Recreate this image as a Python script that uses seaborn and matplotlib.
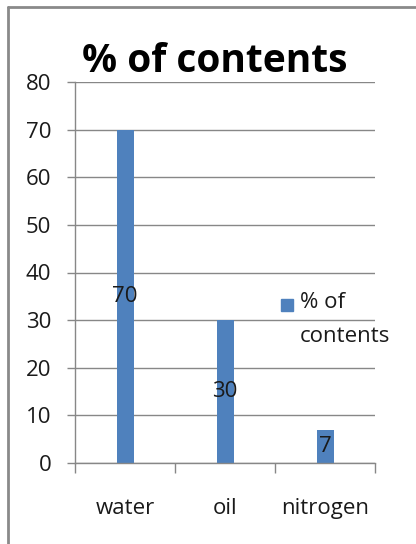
import matplotlib
matplotlib.use("Agg")
import matplotlib.pyplot as plt
import seaborn as sns
import pandas as pd
from matplotlib.lines import Line2D
from matplotlib.patches import Rectangle
from matplotlib.legend_handler import HandlerPatch

categories = ["water", "oil", "nitrogen"]
values = [70, 30, 7]
series_name = "% of contents"
title = "% of contents"
yticks = [0, 10, 20, 30, 40, 50, 60, 70, 80]

sns.set_theme(style="white")
plt.rcParams['font.family'] = ['Open Sans', 'DejaVu Sans']

df = pd.DataFrame({"category": categories, "value": values, "series": series_name})

fig = plt.figure(figsize=(4.16, 5.44), dpi=100)
ax = fig.add_axes([75/416, 1-463/544, 300/416, 381/544])

sns.barplot(data=df, x="category", y="value", hue="series",
            palette=["#4F81BD"], width=0.17, ax=ax, saturation=1, legend=False,
            linewidth=0)

grey = "#878787"
fs = 16
ax.set_ylim(0, 80)
ax.set_xlim(-0.5, 2.5)
ax.set_yticks(yticks)
ax.yaxis.grid(True, color=grey, lw=1)
ax.set_axisbelow(True)
for s in ["top", "right"]:
    ax.spines[s].set_visible(False)
for s in ["left", "bottom"]:
    ax.spines[s].set_color(grey)
    ax.spines[s].set_linewidth(1)
ax.set_xlabel("")
ax.set_ylabel("")

ax.tick_params(axis="y", which="major", length=6, color=grey, width=1, pad=11,
               labelsize=fs, labelcolor="#1a1a1a", left=True)
ax.tick_params(axis="x", which="major", length=0, pad=25, labelsize=fs, labelcolor="#1a1a1a")
ax.set_xticks([-0.5, 0.5, 1.5, 2.5], minor=True)
ax.tick_params(axis="x", which="minor", length=7, color=grey, width=1, bottom=True)

for c in ax.containers:
    ax.bar_label(c, labels=[str(v) for v in values], label_type="center",
                 fontsize=fs, color="#1a1a1a")


def top_square(legend, orig_handle, xdescent, ydescent, width, height, fontsize):
    sq = 0.55 * fontsize
    return Rectangle((-xdescent + width - sq, -ydescent + height - sq + 0.12 * fontsize), sq, sq)


leg = ax.legend(handles=[Rectangle((0, 0), 1, 1, color="#4F81BD")],
                labels=["% of\ncontents"], loc="upper left",
                bbox_to_anchor=((281 - 75) / 300, 1 - (292 - 82) / 381), frameon=False,
                fontsize=fs, handlelength=0.55, handleheight=2.2,
                handletextpad=0.3, borderaxespad=0, borderpad=0,
                handler_map={Rectangle: HandlerPatch(patch_func=top_square)})
for t in leg.get_texts():
    t.set_color("#1a1a1a")
    t.set_linespacing(1.8)

fig.text(215/416, 1-72/544, title, ha="center", va="baseline",
         fontsize=28, fontweight="bold", color="black")

fig.add_artist(Line2D([8/416, 1], [1-7/544, 1-7/544], color="#8a8a8a", lw=2,
                      transform=fig.transFigure))
fig.add_artist(Line2D([8/416, 8/416], [0, 1-7/544], color="#8a8a8a", lw=2,
                      transform=fig.transFigure))

fig.savefig("out.png", dpi=100)
